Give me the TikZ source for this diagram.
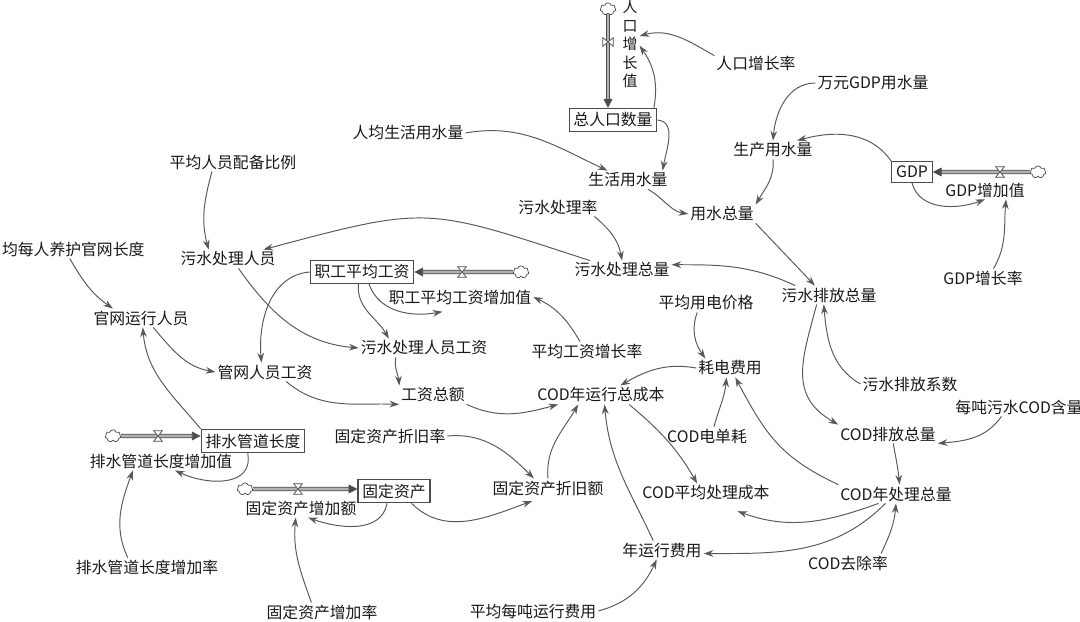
\documentclass[tikz,border=0pt]{standalone}
\usepackage{fontspec}
\setmainfont{Noto Sans CJK SC}
\usetikzlibrary{arrows.meta,shapes.symbols}

\begin{document}
\begin{tikzpicture}[x=0.02cm,y=0.02cm,
	font=\fontsize{9}{11}\selectfont,
	var/.style={inner sep=1pt,text=black!90},
	lvl/.style={draw=black!70,line width=0.6pt,inner sep=2.5pt,text=black!90},
	lnk/.style={draw=black!65,line width=0.55pt,-{Stealth[length=5.5pt,width=3.8pt]}},
	pipe/.style={draw=black!70,line width=0.45pt,double=black!30,double distance=1.6pt,-{Triangle[length=5pt,width=5pt]}},
	src/.style={cloud,cloud puffs=7,draw=black!70,fill=white,minimum width=9pt,minimum height=7pt,inner sep=0pt,aspect=1.3},
	valve/.pic={\draw[black!70,fill=white,line width=0.4pt] (-2.5pt,3pt) -- (2.5pt,3pt) -- (-2.5pt,-3pt) -- (2.5pt,-3pt) -- cycle;}]
		\useasboundingbox[fill=white] (0,0) rectangle (1080,-622);
		%population and water use
		\node[var,align=center,font=\fontsize{8.5}{10.5}\selectfont] (popval) at (630,-44) {人\\口\\增\\长\\值};
		\node[lvl] (pop) at (613,-120) {总人口数量};
		\node[var] (poprate) at (756,-63) {人口增长率};
		\node[var] (percap) at (408,-133) {人均生活用水量};
		\node[var] (domw) at (628,-180) {生活用水量};
		\node[var] (wtot) at (722,-214) {用水总量};
		\node[var] (gdpw) at (873,-83) {万元GDP用水量};
		\node[var] (prodw) at (773,-150) {生产用水量};
		\node[lvl] (gdp) at (912,-172) {GDP};
		\node[var] (gdpinc) at (985,-190) {GDP增加值};
		\node[var] (gdprate) at (983,-278) {GDP增长率};
		\node[var] (swout) at (829,-295) {污水排放总量};
		\node[var] (treatrate) at (558,-207) {污水处理率};
		\node[var] (swtreat) at (622,-270) {污水处理总量};
		%staff and wages
		\node[var] (staff) at (228,-259) {污水处理人员};
		\node[var] (staffratio) at (233,-162) {平均人员配备比例};
		\node[var,anchor=west] (pernet) at (0,-249) {均每人养护官网长度};
		\node[var] (netstaff) at (141,-318) {官网运行人员};
		\node[var] (netwage) at (265,-372) {管网人员工资};
		\node[lvl] (wage) at (362,-272) {职工平均工资};
		\node[var] (wageinc) at (460,-297) {职工平均工资增加值};
		\node[var] (staffwage) at (424,-348) {污水处理人员工资};
		\node[var] (wagerate) at (587,-351) {平均工资增长率};
		\node[var] (wagetot) at (433,-395) {工资总额};
		%cost
		\node[var] (codcost) at (601,-395) {COD年运行总成本};
		\node[var] (elprice) at (706,-303) {平均用电价格};
		\node[var] (elcost) at (730,-368) {耗电费用};
		\node[var] (codel) at (707,-436) {COD电单耗};
		\node[var] (codavg) at (706,-493) {COD平均处理成本};
		\node[var] (codyear) at (896,-494) {COD年处理总量};
		\node[var] (codrm) at (848,-563) {COD去除率};
		\node[var] (codout) at (888,-434) {COD排放总量};
		\node[var] (codcont) at (1019,-407) {每吨污水COD含量};
		\node[var] (swcoef) at (910,-384) {污水排放系数};
		\node[lvl] (pipe) at (253,-441) {排水管道长度};
		\node[var] (pipeinc) at (161,-461) {排水管道长度增加值};
		\node[var] (piperate) at (147,-567) {排水管道长度增加率};
		\node[lvl] (asset) at (394,-491) {固定资产};
		\node[var] (assetinc) at (301,-508) {固定资产增加额};
		\node[var] (assetrate) at (322,-612) {固定资产增加率};
		\node[var] (deprate) at (390,-436) {固定资产折旧率};
		\node[var] (depr) at (548,-488) {固定资产折旧额};
		\node[var] (opcost) at (662,-550) {年运行费用};
		\node[var] (opton) at (533,-611) {平均每吨运行费用};
		%flows
		\node[src] (popsrc) at (608,-9) {};
		\draw[pipe] (popsrc) -- (popsrc |- pop.north);
		\pic[rotate=90] at (608,-42) {valve};
		\node[src] (gdpsrc) at (1038,-172) {};
		\draw[pipe] (gdpsrc) -- (gdp);
		\pic at (1000,-172) {valve};
		\node[src] (wagesrc) at (521,-272) {};
		\draw[pipe] (wagesrc) -- (wage);
		\pic at (462,-272) {valve};
		\node[src] (pipesrc) at (113,-436) {};
		\draw[pipe] (pipesrc) -- (pipesrc -| pipe.west);
		\pic at (158,-436) {valve};
		\node[src] (assetsrc) at (245,-489) {};
		\draw[pipe] (assetsrc) -- (assetsrc -| asset.west);
		\pic at (298,-489) {valve};
		%links
		\draw[lnk] (poprate.170) to[out=150,in=15] (popval.40);
		\draw[lnk] ([xshift=-2pt]pop.north east) to[out=80,in=-55] (popval.-10);
		\draw[lnk] (pop.east) to[out=-5,in=80] ([xshift=-4pt]domw.north east);
		\draw[lnk] (percap.east) to[out=10,in=155] ([xshift=12pt]domw.north west);
		\draw[lnk] (domw.-25) to[out=-30,in=170] (wtot.west);
		\draw[lnk] (gdpw.west) to[out=180,in=85] (prodw.north);
		\draw[lnk] (gdp.north west) to[out=125,in=15] ([xshift=-10pt]prodw.north east);
		\draw[lnk] (gdp.south) to[out=-75,in=200] (gdpinc.south);
		\draw[lnk] ([xshift=6pt]gdprate.north) to[out=60,in=-95] ([xshift=12pt]gdpinc.south);
		\draw[lnk] (prodw.south) to[out=-85,in=60] (wtot.north east);
		\draw[lnk] (wtot.south east) -- ([xshift=-8pt]swout.north);
		\draw[lnk] ([xshift=9pt]swout.north west) to[out=155,in=0] ([yshift=3pt]swtreat.east);
		\draw[lnk] ([xshift=-3pt]treatrate.south east) to[out=-40,in=100] (swtreat.north);
		\draw[lnk] ([xshift=10pt]swtreat.north west) to[out=162,in=15,looseness=1.35] ([xshift=-8pt]staff.north east);
		\draw[lnk] ([xshift=-12pt]staffratio.south) to[out=-105,in=105] ([xshift=-11pt]staff.north);
		\draw[lnk] ([xshift=-2pt]pernet.south) to[out=-60,in=145] ([xshift=-16pt]netstaff.north);
		\draw[lnk] ([xshift=7pt]netstaff.south) to[out=-50,in=170] (netwage.west);
		\draw[lnk] (pipe.north west) to[out=130,in=-85] ([xshift=1pt]netstaff.south);
		\draw[lnk] (wage.west) to[out=185,in=95] ([xshift=-2pt]netwage.north);
		\draw[lnk] ([xshift=6pt]staff.south) to[out=-55,in=175] (staffwage.west);
		\draw[lnk] ([xshift=4pt]wage.south) to[out=-70,in=190] ([xshift=-10pt,yshift=-3pt]wageinc.south);
		\draw[lnk] ([xshift=-2pt]wage.south) to[out=-95,in=120] ([xshift=-20pt]staffwage.north);
		\draw[lnk] ([xshift=-4pt]wagerate.north) to[out=120,in=-25] (wageinc.east);
		\draw[lnk] ([xshift=-16pt]staffwage.south) to[out=-100,in=95] (wagetot.north west);
		\draw[lnk] ([xshift=12pt]netwage.south) to[out=-40,in=178] (wagetot.south west);
		\draw[lnk] (wagetot.south east) to[out=-25,in=195] ([xshift=13pt]codcost.south west);
		\draw[lnk] ([xshift=-5pt]elprice.south) to[out=-110,in=125] ([xshift=-14pt]elcost.north);
		\draw[lnk] (elcost.west) to[out=170,in=30] ([xshift=11pt]codcost.north);
		\draw[lnk] ([xshift=4pt]codel.north) to[out=75,in=-95] ([xshift=-2pt]elcost.south);
		\draw[lnk] (codyear.north west) to[out=155,in=-62,looseness=1.1] ([xshift=3pt]elcost.south);
		\draw[lnk] ([xshift=16pt]codcost.south) to[out=-40,in=120] ([xshift=-5pt]codavg.north);
		\draw[lnk] ([xshift=-10pt]codyear.south) to[out=-160,in=-20] ([xshift=18pt,yshift=-5pt]codavg.south);
		\draw[lnk] ([xshift=-6pt]codyear.south) to[out=-135,in=0] ([yshift=-2pt]opcost.east);
		\draw[lnk] ([xshift=-5pt]codrm.north east) to[out=65,in=-95] (codyear.south);
		\draw[lnk] ([xshift=3pt]codout.south) to[out=-80,in=95] ([xshift=2pt]codyear.north);
		\draw[lnk] ([xshift=-10pt]codcont.south) to[out=-125,in=5] (codout.south east);
		\draw[lnk] (swcoef.west) to[out=150,in=-85] ([xshift=-3pt]swout.south);
		\draw[lnk] ([xshift=-7pt]swout.south) to[out=-105,in=150,looseness=1.2] (codout.north west);
		\draw[lnk] ([xshift=-3pt]pipe.south) to[out=-80,in=-25,looseness=1.2] ([xshift=8pt]pipeinc.south);
		\draw[lnk] ([xshift=-11pt]piperate.north) to[out=115,in=-110] ([xshift=-16pt]pipeinc.south);
		\draw[lnk] ([xshift=-4pt]asset.south) to[out=-100,in=-20] ([xshift=4pt]assetinc.south);
		\draw[lnk] ([xshift=-6pt]assetrate.north) to[out=110,in=-95] ([xshift=-3pt]assetinc.south);
		\draw[lnk] (deprate.east) to[out=5,in=135] ([xshift=-8pt]depr.north);
		\draw[lnk] ([xshift=10pt]asset.south) to[out=-45,in=200] ([xshift=-9pt,yshift=-2pt]depr.south);
		\draw[lnk] (depr.north) to[out=95,in=-120] ([xshift=-13pt]codcost.south);
		\draw[lnk] ([xshift=-5pt]opcost.north) to[out=115,in=-85] ([xshift=2pt]codcost.south);
		\draw[lnk] (opton.east) to[out=15,in=-115] ([xshift=-3pt]opcost.south);
\end{tikzpicture}
\end{document}
